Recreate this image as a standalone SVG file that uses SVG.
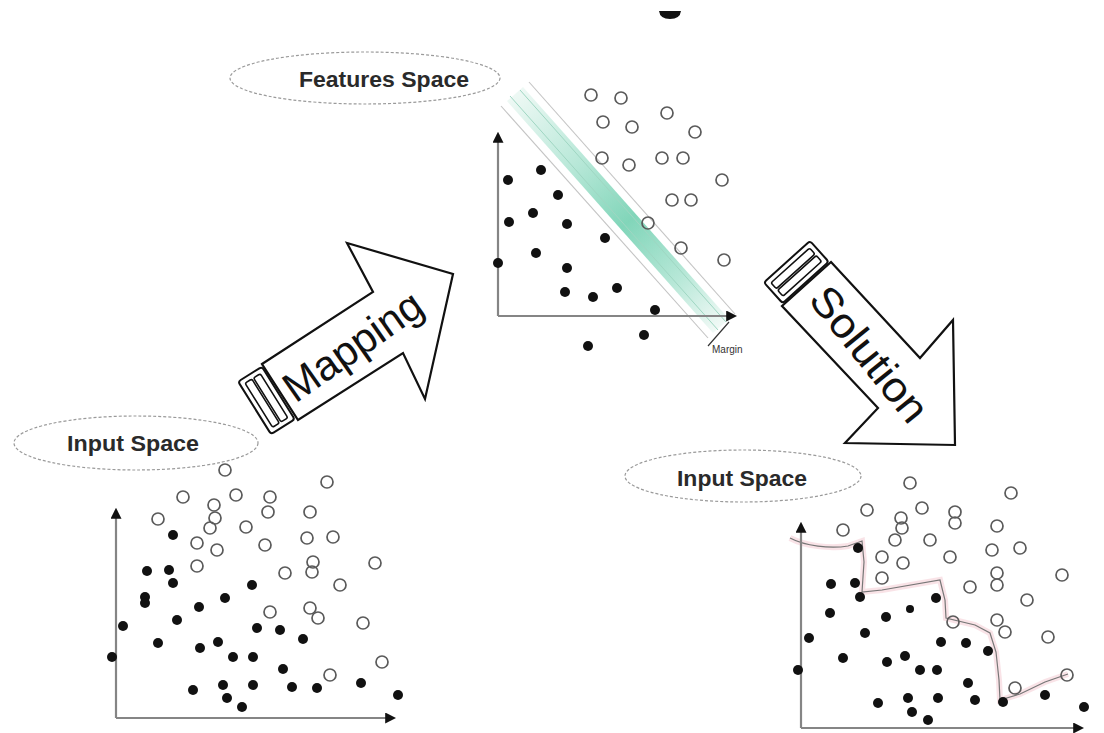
<svg xmlns="http://www.w3.org/2000/svg" width="1104" height="733" viewBox="0 0 1104 733">
<style>
.o{fill:none;stroke:#5a5a5a;stroke-width:1.7}
.f{fill:#111}
.ax{stroke:#858585;stroke-width:2.2;fill:none}
.ell{fill:none;stroke:#9a9a9a;stroke-width:1.2;stroke-dasharray:3 2}
.lbl{font-family:"Liberation Sans",Arial,sans-serif;font-weight:bold;font-size:22px;fill:#2a2a2a}
.arr{fill:#fff;stroke:#111;stroke-width:2.2;stroke-linejoin:miter}
.big{font-family:"Liberation Sans",Arial,sans-serif;font-size:42px;fill:#111}
.blk{fill:#fff;stroke:#111;stroke-width:2}
.slot{fill:none;stroke:#111;stroke-width:1.6}
</style>
<defs>
<marker id="ah" viewBox="0 0 10 10" refX="8" refY="5" markerWidth="5" markerHeight="5" orient="auto-start-reverse">
<path d="M0,0 L10,5 L0,10 Z" fill="#111"/>
</marker>
<linearGradient id="band" gradientUnits="userSpaceOnUse" x1="515" y1="94" x2="721" y2="326">
<stop offset="0" stop-color="#eaf7f2"/>
<stop offset="0.3" stop-color="#a6e2ce"/>
<stop offset="0.55" stop-color="#62cba8"/>
<stop offset="0.8" stop-color="#a6e2ce"/>
<stop offset="1" stop-color="#eef8f4"/>
</linearGradient>
</defs>

<path d="M659,11 L681,11 Q680,19 670,19 Q660,19 659,11 Z" fill="#111"/>

<!-- Left input space -->
<g id="input-space-left">
<ellipse class="ell" cx="136" cy="443" rx="122" ry="27"/>
<text class="lbl" x="133" y="451" text-anchor="middle" textLength="132" lengthAdjust="spacingAndGlyphs">Input Space</text>
</g>
<g id="plot-left">
<path class="ax" d="M116,718 L116,510" marker-end="url(#ah)"/>
<path class="ax" d="M116,718 L394,718" marker-end="url(#ah)"/>
<g class="o">
<circle cx="225" cy="470" r="6"/><circle cx="327" cy="482" r="6"/><circle cx="183" cy="497" r="6"/>
<circle cx="236" cy="495" r="6"/><circle cx="270" cy="497" r="6"/><circle cx="214" cy="505" r="6"/>
<circle cx="268" cy="512" r="6"/><circle cx="310" cy="512" r="6"/><circle cx="158" cy="519" r="6"/>
<circle cx="215" cy="518" r="6"/><circle cx="210" cy="528" r="6"/><circle cx="246" cy="527" r="6"/>
<circle cx="307" cy="538" r="6"/><circle cx="333" cy="537" r="6"/><circle cx="197" cy="543" r="6"/>
<circle cx="217" cy="550" r="6"/><circle cx="265" cy="545" r="6"/><circle cx="197" cy="566" r="6"/>
<circle cx="285" cy="573" r="6"/><circle cx="313" cy="562" r="6"/><circle cx="312" cy="572" r="6"/>
<circle cx="375" cy="563" r="6"/><circle cx="340" cy="585" r="6"/><circle cx="270" cy="612" r="6"/>
<circle cx="310" cy="608" r="6"/><circle cx="318" cy="618" r="6"/><circle cx="363" cy="623" r="6"/>
<circle cx="382" cy="662" r="6"/><circle cx="330" cy="675" r="6"/>
</g>
<g class="f">
<circle cx="173" cy="535" r="5"/><circle cx="147" cy="571" r="5"/><circle cx="169" cy="570" r="5"/>
<circle cx="173" cy="583" r="5"/><circle cx="145" cy="597" r="5"/><circle cx="145" cy="603" r="5"/>
<circle cx="252" cy="585" r="5"/><circle cx="225" cy="598" r="5"/><circle cx="199" cy="607" r="5"/>
<circle cx="177" cy="620" r="5"/><circle cx="123" cy="626" r="5"/><circle cx="257" cy="628" r="5"/>
<circle cx="280" cy="630" r="5"/><circle cx="303" cy="639" r="5"/><circle cx="158" cy="643" r="5"/>
<circle cx="200" cy="648" r="5"/><circle cx="218" cy="642" r="5"/><circle cx="233" cy="657" r="5"/>
<circle cx="253" cy="657" r="5"/><circle cx="112" cy="657" r="5"/><circle cx="283" cy="669" r="5"/>
<circle cx="193" cy="690" r="5"/><circle cx="223" cy="685" r="5"/><circle cx="253" cy="685" r="5"/>
<circle cx="292" cy="687" r="5"/><circle cx="317" cy="688" r="5"/><circle cx="361" cy="683" r="5"/>
<circle cx="227" cy="698" r="5"/><circle cx="242" cy="707" r="5"/><circle cx="398" cy="695" r="5"/>
</g>
</g>

<!-- Mapping arrow -->
<g id="mapping-arrow">
<path class="arr" d="M262,364 L373,292 L347,243 L453,274 L425,399 L403,353 L298,420 Z"/>
<g transform="translate(280,392) rotate(-32)">
<rect class="blk" x="-30" y="-31" width="28" height="62" rx="3"/>
<rect class="slot" x="-25" y="-26" width="8" height="52" rx="2"/>
<rect class="slot" x="-15" y="-26" width="8" height="52" rx="2"/>
<text class="big" x="86" y="14" text-anchor="middle" textLength="160" lengthAdjust="spacingAndGlyphs" transform="rotate(-3 86 0)">Mapping</text>
</g>
</g>

<!-- Features space -->
<g id="features-space">
<ellipse class="ell" cx="365" cy="78" rx="135" ry="26"/>
<text class="lbl" x="384" y="87" text-anchor="middle" textLength="170" lengthAdjust="spacingAndGlyphs">Features Space</text>
</g>
<g id="plot-features">
<polygon points="523,87 729,319 713,333 507,101" fill="url(#band)" opacity="0.8"/>
<line x1="501" y1="106" x2="708" y2="338" stroke="#c4c4c4" stroke-width="1.1"/>
<line x1="529" y1="82" x2="735" y2="314" stroke="#c4c4c4" stroke-width="1.1"/>
<line x1="510" y1="96" x2="718" y2="330" stroke="#9fd6c2" stroke-width="1"/>
<line x1="520" y1="90" x2="726" y2="322" stroke="#9fd6c2" stroke-width="1"/>
<path class="ax" d="M498,316 L498,134" marker-end="url(#ah)"/>
<path class="ax" d="M498,316 L735,316" marker-end="url(#ah)"/>
<line x1="708" y1="346" x2="729" y2="322" stroke="#333" stroke-width="1.2"/>
<text x="712" y="353" font-family="Liberation Sans, Arial, sans-serif" font-size="10" fill="#333">Margin</text>
<g class="o">
<circle cx="591" cy="95" r="6"/><circle cx="621" cy="98" r="6"/><circle cx="603" cy="122" r="6"/>
<circle cx="632" cy="127" r="6"/><circle cx="667" cy="113" r="6"/><circle cx="695" cy="132" r="6"/>
<circle cx="602" cy="158" r="6"/><circle cx="629" cy="165" r="6"/><circle cx="662" cy="158" r="6"/>
<circle cx="683" cy="158" r="6"/><circle cx="722" cy="180" r="6"/><circle cx="672" cy="200" r="6"/>
<circle cx="691" cy="200" r="6"/><circle cx="648" cy="223" r="6"/><circle cx="681" cy="248" r="6"/>
<circle cx="724" cy="260" r="6"/>
</g>
<g class="f">
<circle cx="541" cy="170" r="5"/><circle cx="508" cy="180" r="5"/><circle cx="558" cy="195" r="5"/>
<circle cx="509" cy="222" r="5"/><circle cx="533" cy="213" r="5"/><circle cx="567" cy="224" r="5"/>
<circle cx="605" cy="238" r="5"/><circle cx="536" cy="253" r="5"/><circle cx="498" cy="263" r="5"/>
<circle cx="567" cy="268" r="5"/><circle cx="565" cy="292" r="5"/><circle cx="593" cy="297" r="5"/>
<circle cx="617" cy="288" r="5"/><circle cx="655" cy="310" r="5"/><circle cx="644" cy="335" r="5"/>
<circle cx="588" cy="346" r="5"/>
</g>
</g>

<!-- Solution arrow -->
<g id="solution-arrow">
<path class="arr" d="M831,262 L920,358 L953,320 L955,445 L845,443 L878,408 L782,306 Z"/>
<g transform="translate(807,284) rotate(48)">
<rect class="blk" x="-30" y="-31" width="28" height="62" rx="3"/>
<rect class="slot" x="-25" y="-26" width="8" height="52" rx="2"/>
<rect class="slot" x="-15" y="-26" width="8" height="52" rx="2"/>
<text class="big" x="94" y="15" text-anchor="middle" textLength="162" lengthAdjust="spacingAndGlyphs" transform="rotate(3 94 0)">Solution</text>
</g>
</g>

<!-- Right input space -->
<g id="input-space-right">
<ellipse class="ell" cx="743" cy="476" rx="118" ry="26"/>
<text class="lbl" x="742" y="486" text-anchor="middle" textLength="130" lengthAdjust="spacingAndGlyphs">Input Space</text>
</g>
<g id="plot-right">
<path d="M790,538 C805,546 830,549 848,546 L862,541 L864,562 L862,592 L882,590 L940,580 L945,600 L946,618 L975,625 L990,633 L996,652 L999,680 L1000,700 L1020,694 L1045,682 L1068,674" fill="none" stroke="#f4c8d0" stroke-width="6" opacity="0.5"/>
<path d="M790,538 C805,546 830,549 848,546 L862,541 L864,562 L862,592 L882,590 L940,580 L945,600 L946,618 L975,625 L990,633 L996,652 L999,680 L1000,700 L1020,694 L1045,682 L1068,674" fill="none" stroke="#777" stroke-width="1.2"/>
<path class="ax" d="M801,728 L801,524" marker-end="url(#ah)"/>
<path class="ax" d="M801,728 L1082,728" marker-end="url(#ah)"/>
<g class="o">
<circle cx="910" cy="483" r="6"/><circle cx="1011" cy="493" r="6"/><circle cx="867" cy="510" r="6"/>
<circle cx="922" cy="508" r="6"/><circle cx="901" cy="518" r="6"/><circle cx="955" cy="512" r="6"/>
<circle cx="955" cy="523" r="6"/><circle cx="843" cy="530" r="6"/><circle cx="902" cy="528" r="6"/>
<circle cx="895" cy="540" r="6"/><circle cx="930" cy="540" r="6"/><circle cx="997" cy="526" r="6"/>
<circle cx="992" cy="550" r="6"/><circle cx="1020" cy="548" r="6"/><circle cx="882" cy="557" r="6"/>
<circle cx="903" cy="563" r="6"/><circle cx="950" cy="557" r="6"/><circle cx="882" cy="578" r="6"/>
<circle cx="970" cy="587" r="6"/><circle cx="997" cy="573" r="6"/><circle cx="997" cy="585" r="6"/>
<circle cx="1062" cy="575" r="6"/><circle cx="1027" cy="600" r="6"/><circle cx="953" cy="622" r="6"/>
<circle cx="997" cy="620" r="6"/><circle cx="1005" cy="632" r="6"/><circle cx="1048" cy="637" r="6"/>
<circle cx="1067" cy="675" r="6"/><circle cx="1015" cy="688" r="6"/>
</g>
<g class="f">
<circle cx="858" cy="548" r="5"/><circle cx="831" cy="584" r="5"/><circle cx="855" cy="583" r="5"/>
<circle cx="860" cy="597" r="5"/><circle cx="830" cy="613" r="5"/><circle cx="886" cy="617" r="5"/>
<circle cx="910" cy="609" r="4"/><circle cx="936" cy="598" r="5"/><circle cx="865" cy="633" r="5"/>
<circle cx="809" cy="638" r="5"/><circle cx="941" cy="642" r="5"/><circle cx="966" cy="643" r="5"/>
<circle cx="988" cy="651" r="5"/><circle cx="843" cy="658" r="5"/><circle cx="887" cy="662" r="5"/>
<circle cx="905" cy="656" r="5"/><circle cx="920" cy="670" r="5"/><circle cx="937" cy="670" r="5"/>
<circle cx="798" cy="670" r="5"/><circle cx="968" cy="683" r="5"/><circle cx="878" cy="703" r="5"/>
<circle cx="908" cy="698" r="5"/><circle cx="938" cy="698" r="5"/><circle cx="975" cy="700" r="5"/>
<circle cx="1003" cy="702" r="5"/><circle cx="1045" cy="695" r="5"/><circle cx="912" cy="712" r="5"/>
<circle cx="928" cy="720" r="5"/><circle cx="1084" cy="707" r="5"/>
</g>
</g>
</svg>
